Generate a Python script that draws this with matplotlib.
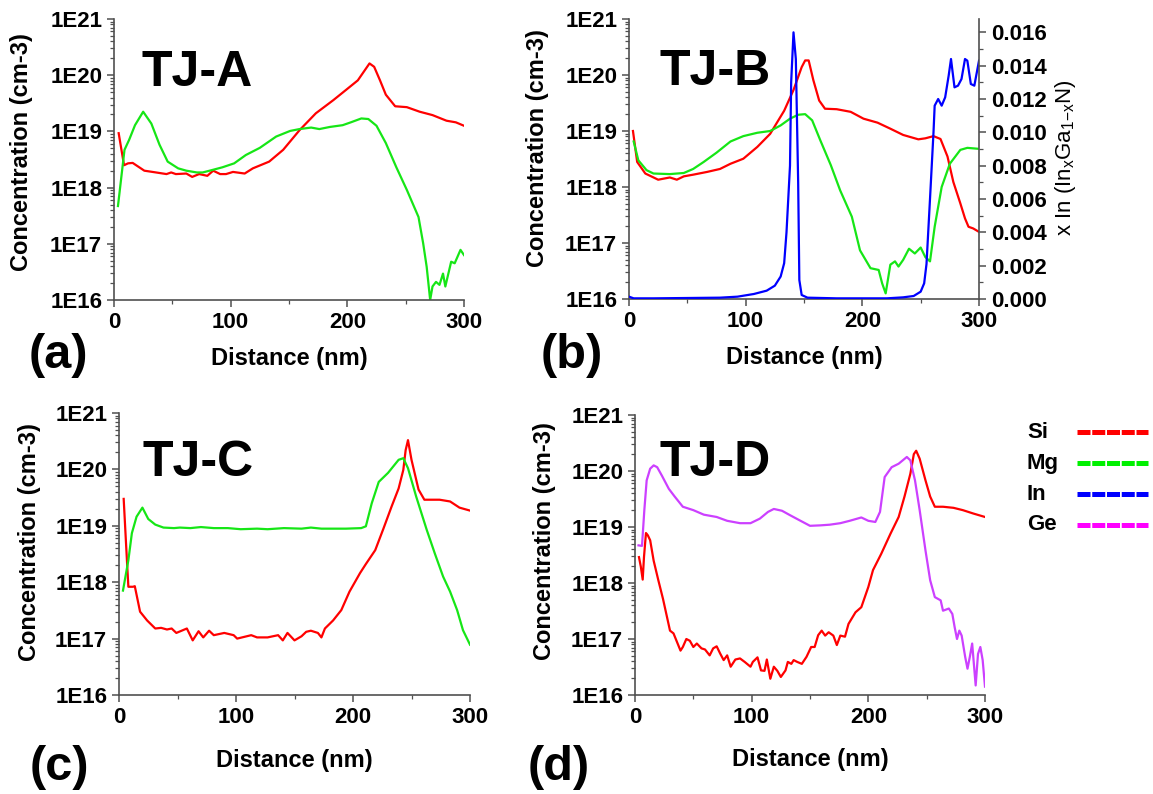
import numpy as np
import matplotlib
matplotlib.use("Agg")
import matplotlib.pyplot as plt
from matplotlib.ticker import LogLocator, NullFormatter, FixedLocator, MultipleLocator
from matplotlib.lines import Line2D

plt.rcParams['font.family'] = ['Liberation Sans', 'DejaVu Sans']

# ---------------- data ----------------
# Panel (a) TJ-A
a_si_x = [4, 8.6, 12, 16, 26, 36, 45, 49, 53, 62, 67, 73, 80, 85, 91, 96, 102, 112, 119, 133, 145,
          159, 173, 188, 199, 209, 219, 223, 228, 233, 241, 251, 262, 273, 285, 293, 300]
a_si_y = [9.3e18, 2.5e18, 2.7e18, 2.75e18, 2.0e18, 1.86e18, 1.74e18, 1.86e18, 1.74e18, 1.78e18, 1.55e18,
          1.74e18, 1.62e18, 2.0e18, 1.74e18, 1.74e18, 1.9e18, 1.78e18, 2.2e18, 2.9e18, 4.7e18,
          1.05e19, 2.1e19, 3.6e19, 5.5e19, 8.1e19, 1.62e20, 1.41e20, 8.1e19, 4.5e19, 2.8e19, 2.7e19,
          2.24e19, 1.95e19, 1.55e19, 1.45e19, 1.26e19]
a_mg_x = [3.4, 9, 13, 18, 25, 32, 39, 46, 55, 62, 71, 76, 82, 93, 103, 113, 125, 139, 151, 159, 169,
          176, 185, 196, 203, 212, 218, 225, 233, 242, 251, 261, 265, 268, 271, 273, 276, 279, 282,
          284, 289, 292, 297, 300]
a_mg_y = [4.7e17, 4.7e18, 7.1e18, 1.29e19, 2.24e19, 1.38e19, 5.8e18, 2.9e18, 2.2e18, 2.0e18, 1.86e18,
          1.86e18, 2.0e18, 2.3e18, 2.7e18, 3.8e18, 5.1e18, 8.1e18, 1.02e19, 1.1e19, 1.17e19,
          1.1e19, 1.2e19, 1.29e19, 1.45e19, 1.7e19, 1.66e19, 1.26e19, 6.2e18, 2.3e18, 9.1e17,
          3.0e17, 1.02e17, 3.9e16, 1.0e16, 1.74e16, 2.1e16, 1.86e16, 2.95e16, 1.74e16, 4.8e16,
          4.5e16, 7.8e16, 6.3e16]

# Panel (b) TJ-B
b_si_x = [3.4, 7, 14, 25, 35, 41, 47, 55, 67, 78, 87, 98, 110, 121, 133, 141, 148, 151, 154, 158,
          163, 168, 178, 190, 201, 213, 224, 235, 248, 254, 261, 267, 273, 278, 284, 288, 291, 295, 300]
b_si_y = [1.0e19, 2.8e18, 1.74e18, 1.35e18, 1.48e18, 1.35e18, 1.55e18, 1.66e18, 1.86e18, 2.1e18,
          2.6e18, 3.2e18, 5.2e18, 8.9e18, 2.3e19, 5.4e19, 1.38e20, 1.82e20, 1.82e20, 8.1e19,
          3.5e19, 2.5e19, 2.45e19, 2.2e19, 1.66e19, 1.41e19, 1.1e19, 8.5e18, 7.1e18, 7.4e18,
          8.1e18, 7.2e18, 3.5e18, 1.23e18, 5.1e17, 2.75e17, 1.95e17, 1.82e17, 1.58e17]
b_mg_x = [4, 8, 15, 21, 35, 47, 55, 64, 75, 87, 98, 110, 121, 130, 138, 145, 151, 157, 164, 173,
          181, 191, 198, 207, 214, 217, 220, 224, 228, 231, 235, 240, 245, 250, 254, 258, 262, 268,
          275, 284, 290, 300]
b_mg_y = [6.5e18, 3.0e18, 2.0e18, 1.74e18, 1.7e18, 1.78e18, 2.1e18, 2.8e18, 4.1e18, 6.5e18, 8.1e18,
          9.3e18, 1.0e19, 1.26e19, 1.66e19, 1.95e19, 2.0e19, 1.55e19, 6.8e18, 2.45e18,
          8.7e17, 2.95e17, 7.4e16, 3.55e16, 3.3e16, 1.9e16, 1.26e16, 4.1e16, 4.7e16, 3.8e16,
          5.0e16, 7.9e16, 6.5e16, 8.3e16, 5.6e16, 4.7e16, 1.95e17, 1.0e18, 2.6e18, 4.6e18,
          5.0e18, 4.8e18]
b_in_x = [0, 4, 21, 50, 78, 93, 107, 118, 125, 130, 133, 135, 138, 139, 141, 143, 145, 146, 148,
          153, 178, 221, 235, 244, 250, 253, 255, 258, 261, 262, 265, 268, 271, 274, 276, 279, 282,
          285, 288, 290, 293, 296, 300]
b_in_y = [0.00014, 0.00004, 0.00004, 0.00006, 0.00008, 0.00014, 0.0003, 0.0005, 0.0008, 0.00135,
          0.00215, 0.0040, 0.0080, 0.0130, 0.0160, 0.0144, 0.0070, 0.00114, 0.00024,
          0.00008, 0.00004, 0.00004, 0.0001, 0.00018, 0.00044, 0.00094, 0.0021, 0.006, 0.010,
          0.0116, 0.0120, 0.0116, 0.0121, 0.0134, 0.0144, 0.0127, 0.0128, 0.0132, 0.0144,
          0.0143, 0.0129, 0.0128, 0.0143]

# Panel (c) TJ-C
c_si_x = [4, 6, 8, 12, 13.5, 18, 24, 31, 36, 41, 45, 49, 58, 63, 68, 72, 77, 81, 90, 98, 101, 113,
          118, 127, 136, 140, 144, 150, 156, 160, 164, 170, 173, 176, 183, 190, 197, 206, 211, 219,
          226, 233, 239, 243, 245, 247, 250, 256, 261, 274, 283, 291, 300]
c_si_y = [3.0e19, 4.9e18, 8.3e17, 8.3e17, 8.5e17, 3.0e17, 2.1e17, 1.51e17, 1.55e17, 1.45e17,
          1.51e17, 1.26e17, 1.51e17, 9.3e16, 1.35e17, 1.05e17, 1.38e17, 1.15e17, 1.26e17,
          1.15e17, 1.0e17, 1.15e17, 1.05e17, 1.05e17, 1.15e17, 9.3e16, 1.26e17, 9.3e16,
          1.1e17, 1.32e17, 1.38e17, 1.26e17, 1.05e17, 1.51e17, 2.1e17, 3.2e17, 6.8e17,
          1.45e18, 2.1e18, 3.7e18, 8.9e18, 2.2e19, 4.6e19, 9.8e19, 2.2e20, 3.3e20, 1.48e20,
          4.4e19, 2.9e19, 2.9e19, 2.7e19, 2.1e19, 1.86e19]
c_mg_x = [3.4, 8, 11, 15, 20, 25, 31, 38, 47, 52, 61, 70, 81, 93, 104, 118, 127, 141, 156, 164,
          173, 194, 207, 211, 216, 222, 230, 239, 243, 247, 254, 263, 270, 277, 283, 289, 294, 300]
c_mg_y = [7.1e17, 2.45e18, 7.4e18, 1.45e19, 2.1e19, 1.32e19, 1.05e19, 9.3e18, 9.1e18, 9.3e18,
          9.1e18, 9.5e18, 9.1e18, 9.1e18, 8.7e18, 8.9e18, 8.7e18, 9.1e18, 8.9e18, 9.3e18,
          8.9e18, 8.9e18, 9.1e18, 9.8e18, 2.5e19, 6.0e19, 8.7e19, 1.48e20, 1.58e20, 1.05e20,
          3.3e19, 8.5e18, 3.2e18, 1.26e18, 6.8e17, 3.2e17, 1.41e17, 7.8e16]

# Panel (d) TJ-D
d_si_x = [3.4, 5, 6.6, 7.7, 9.4, 11, 13, 16, 20, 24, 30, 33, 39, 41, 44, 47, 50, 53, 57, 60, 64,
          67, 70, 73, 76, 79, 82, 86, 90, 94, 99, 101, 105, 108, 111, 113, 116, 119, 122, 125, 129,
          131, 134, 136, 139, 143, 147, 151, 154, 157, 160, 163, 166, 170, 173, 176, 180, 183, 189,
          194, 200, 204, 211, 219, 226, 231, 236, 239, 241, 244, 249, 253, 257, 264, 273, 281,
          290, 300]
d_si_y = [2.9e18, 1.95e18, 1.15e18, 2.9e18, 7.8e18, 7.1e18, 5.8e18, 2.5e18, 1.12e18, 5.2e17,
          1.41e17, 1.26e17, 6.2e16, 7.2e16, 1.0e17, 9.3e16, 7.2e16, 8.3e16, 6.8e16, 6.5e16,
          5.1e16, 6.8e16, 7.4e16, 5.5e16, 4.2e16, 5.1e16, 3.2e16, 4.3e16, 4.5e16, 3.9e16,
          3.2e16, 3.9e16, 4.7e16, 2.75e16, 2.7e16, 4.3e16, 1.95e16, 3.2e16, 2.7e16, 2.1e16,
          2.75e16, 3.9e16, 3.6e16, 4.2e16, 3.9e16, 3.6e16, 4.8e16, 7.2e16, 7.2e16, 1.17e17,
          1.41e17, 1.15e17, 1.32e17, 1.15e17, 7.8e16, 1.15e17, 1.1e17, 1.86e17, 3.0e17,
          3.7e17, 8.5e17, 1.7e18, 3.3e18, 7.6e18, 1.51e19, 3.5e19, 8.9e19, 2.0e20, 2.3e20,
          1.66e20, 6.8e19, 3.5e19, 2.3e19, 2.3e19, 2.2e19, 2.0e19, 1.74e19, 1.51e19]
d_ge_x = [3, 6, 8, 10, 13, 16, 19, 23, 29, 34, 41, 50, 59, 70, 79, 90, 99, 107, 114, 119, 126, 133,
          141, 150, 159, 167, 176, 184, 194, 200, 206, 210, 214, 220, 226, 233, 236, 240, 244, 249,
          253, 257, 262, 264, 269, 272, 274, 276, 278, 280, 283, 285, 287, 289, 292, 294, 296, 298,
          300]
d_ge_y = [4.7e18, 4.6e18, 2.0e19, 6.8e19, 1.1e20, 1.26e20, 1.17e20, 8.3e19, 4.8e19, 3.5e19,
          2.3e19, 2.0e19, 1.66e19, 1.51e19, 1.29e19, 1.17e19, 1.17e19, 1.41e19, 1.86e19,
          2.1e19, 1.95e19, 1.62e19, 1.32e19, 1.05e19, 1.07e19, 1.1e19, 1.17e19, 1.29e19,
          1.48e19, 1.29e19, 1.23e19, 1.86e19, 7.8e19, 1.17e20, 1.35e20, 1.78e20, 1.55e20,
          6.8e19, 2.0e19, 3.8e18, 1.12e18, 5.6e17, 4.9e17, 3.2e17, 3.5e17, 2.8e17, 1.62e17,
          1.0e17, 1.41e17, 1.15e17, 4.8e16, 2.95e16, 4.8e16, 8.3e16, 1.48e16, 5.4e16, 7.2e16,
          4.2e16, 1.41e16]

panel_titles = ['TJ-A', 'TJ-B', 'TJ-C', 'TJ-D']
panel_letters = ['(a)', '(b)', '(c)', '(d)']
y_tick_vals = [1e16, 1e17, 1e18, 1e19, 1e20, 1e21]
y_tick_labels = ['1E16', '1E17', '1E18', '1E19', '1E20', '1E21']
x_tick_vals = [0, 100, 200, 300]
in_tick_vals = [0.000, 0.002, 0.004, 0.006, 0.008, 0.010, 0.012, 0.014, 0.016]
legend_labels = ['Si', 'Mg', 'In', 'Ge']

# ---------------- style ----------------
C_SI = '#ff0000'
C_MG = '#16e616'
C_IN = '#0000ff'
C_GE = '#cc40ff'
LEG_COLORS = ['#ff0000', '#00f000', '#0000ff', '#ff00ff']
AX_COLOR = '#505050'
LW = 1.6
TICK_FS = 16
LABEL_FS = 17

W, H = 1153, 794
fig = plt.figure(figsize=(W / 100, H / 100), dpi=100)


def add_axes_px(l, t, r, b):
    return fig.add_axes([l / W, 1 - b / H, (r - l) / W, (b - t) / H])


def style_axes(ax):
    ax.set_yscale('log')
    ax.set_xlim(0, 300)
    ax.set_ylim(1e16, 1e21)
    ax.set_yticks(y_tick_vals)
    ax.set_yticklabels(y_tick_labels)
    ax.set_xticks(x_tick_vals)
    ax.set_xticklabels([str(v) for v in x_tick_vals])
    ax.xaxis.set_minor_locator(FixedLocator([50, 150, 250]))
    ax.yaxis.set_minor_locator(LogLocator(base=10, subs=np.arange(2, 10)))
    ax.yaxis.set_minor_formatter(NullFormatter())
    for s in ['top', 'right']:
        ax.spines[s].set_visible(False)
    for s in ['left', 'bottom']:
        ax.spines[s].set_color(AX_COLOR)
        ax.spines[s].set_linewidth(1.2)
    ax.tick_params(which='major', direction='out', length=5, width=1.1, color=AX_COLOR,
                   labelsize=TICK_FS, pad=3.5)
    ax.tick_params(which='minor', direction='out', length=3, width=0.9, color=AX_COLOR)
    for lab in ax.get_xticklabels() + ax.get_yticklabels():
        lab.set_fontweight('bold')
    ax.set_xlabel('Distance (nm)', fontsize=LABEL_FS, fontweight='bold')
    ax.set_ylabel('Concentration (cm-3)', fontsize=LABEL_FS, fontweight='bold', va='center')
    ax.patch.set_alpha(0)


# axes boxes in pixels (left, top, right, bottom)
axA = add_axes_px(114, 19, 464, 300)
axB = add_axes_px(629, 19, 979, 299)
axC = add_axes_px(119, 413, 470, 695)
axD = add_axes_px(635, 415, 985, 695)

# panel A
axA.plot(a_si_x, a_si_y, color=C_SI, lw=LW)
axA.plot(a_mg_x, a_mg_y, color=C_MG, lw=LW)
# panel B
axB.plot(b_si_x, b_si_y, color=C_SI, lw=LW)
axB.plot(b_mg_x, b_mg_y, color=C_MG, lw=LW)
# panel C
axC.plot(c_si_x, c_si_y, color=C_SI, lw=LW)
axC.plot(c_mg_x, c_mg_y, color=C_MG, lw=LW)
# panel D
axD.plot(d_si_x, d_si_y, color=C_SI, lw=LW)
axD.plot(d_ge_x, d_ge_y, color=C_GE, lw=LW)

for ax in [axA, axB, axC, axD]:
    style_axes(ax)

# label positions
axA.xaxis.set_label_coords(0.5, -0.168)
axB.xaxis.set_label_coords(0.5, -0.168)
axC.xaxis.set_label_coords(0.5, -0.19)
axD.xaxis.set_label_coords(0.5, -0.19)
axA.yaxis.set_label_coords(-0.263, 0.527)
axB.yaxis.set_label_coords(-0.261, 0.54)
axC.yaxis.set_label_coords(-0.256, 0.543)
axD.yaxis.set_label_coords(-0.26, 0.548)

# twin axis for In fraction
axB2 = axB.twinx()
axB2.plot(b_in_x, b_in_y, color=C_IN, lw=LW)
axB2.set_ylim(0, 0.0168)
axB2.set_xlim(0, 300)
axB2.set_yticks(in_tick_vals)
axB2.set_yticklabels(['%.3f' % v for v in in_tick_vals])
axB2.yaxis.set_minor_locator(MultipleLocator(0.001))
for s in ['top', 'left', 'bottom']:
    axB2.spines[s].set_visible(False)
axB2.spines['right'].set_color(AX_COLOR)
axB2.spines['right'].set_linewidth(1.2)
axB2.tick_params(which='major', direction='out', length=5, width=1.1, color=AX_COLOR,
                 labelsize=TICK_FS, pad=3.5)
axB2.tick_params(which='minor', direction='out', length=3, width=0.9, color=AX_COLOR)
for lab in axB2.get_yticklabels():
    lab.set_fontweight('bold')
axB2.set_ylabel(r'x In (In$_\mathregular{x}$Ga$_\mathregular{1{-}x}$N)',
                fontsize=16, va='center', rotation=90)
axB2.yaxis.set_label_coords(1.246, 0.504)

# panel titles
title_pos = [(axA, 0.08, 0.762), (axB, 0.086, 0.764), (axC, 0.068, 0.777), (axD, 0.069, 0.782)]
for (ax, tx, ty), ttl in zip(title_pos, panel_titles):
    ax.text(tx, ty, ttl, transform=ax.transAxes, fontsize=36, fontweight='bold',
            ha='left', va='baseline')

# panel letters
letter_pos = [(29, 368), (541, 368), (30, 780), (528, 780)]
for (lx, ly), lt in zip(letter_pos, panel_letters):
    fig.text(lx / W, 1 - ly / H, lt, fontsize=35, fontweight='bold', ha='left', va='baseline')

# legend (text left, line right)
leg_y = [432, 463, 494, 525]
for yy, lab, col in zip(leg_y, legend_labels, LEG_COLORS):
    fig.text(1027 / W, 1 - yy / H, lab, fontsize=TICK_FS, fontweight='bold', ha='left', va='center')
    fig.add_artist(Line2D([1077 / W, 1148 / W], [1 - yy / H, 1 - yy / H], color=col, lw=3.6,
                          linestyle=(0, (2.6, 0.35)), solid_capstyle='butt',
                          dash_capstyle='butt'))

fig.savefig('out.png', dpi=100)
